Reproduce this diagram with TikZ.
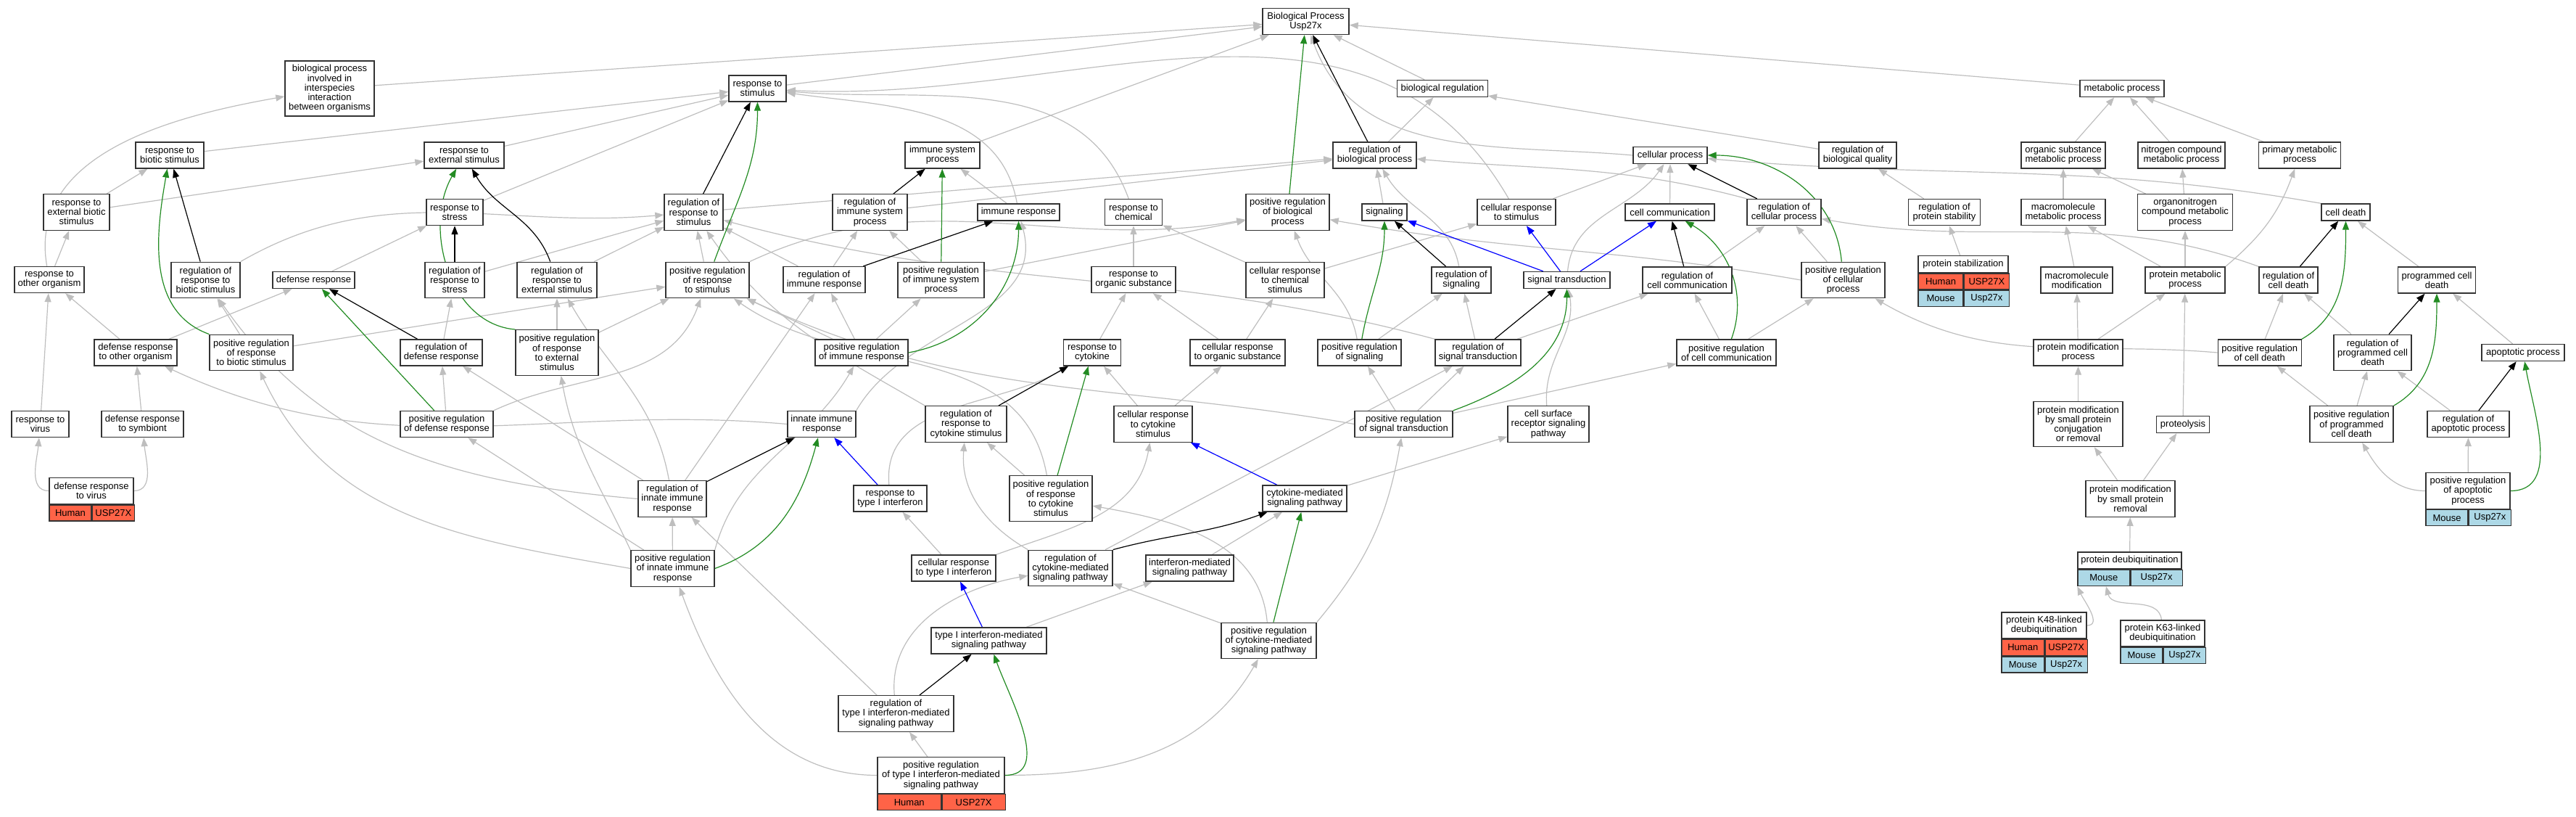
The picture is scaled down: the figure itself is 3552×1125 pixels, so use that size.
\documentclass[tikz,border=0pt]{standalone}
\usepackage{fontspec}
\setmainfont{Liberation Sans}
\usetikzlibrary{arrows.meta,backgrounds}
\definecolor{boxline}{HTML}{333333}
\definecolor{edgegray}{HTML}{BEBEBE}
\definecolor{posgreen}{HTML}{228B22}
\definecolor{humanred}{HTML}{FF6347}
\definecolor{mouseblue}{HTML}{ADD8E6}
\tikzset{
  term/.style={draw=boxline, line width=1.4pt, fill=white, align=center,
    inner xsep=0pt, inner ysep=0pt, font=\fontsize{13pt}{13.2pt}\selectfont},
  l1/.style={minimum height=23pt},
  l2/.style={minimum height=36pt},
  l3/.style={minimum height=49.5pt},
  l4/.style={minimum height=62.5pt},
  l5/.style={minimum height=76pt},
  human/.style={term, fill=humanred, minimum height=22pt, anchor=north west},
  mouse/.style={term, fill=mouseblue, minimum height=22pt, anchor=north west},
  isa/.style={draw=edgegray, line width=1.2pt, -{Triangle[length=12pt,width=9pt]}},
  regulates/.style={isa, draw=black},
  posreg/.style={isa, draw=posgreen},
  partof/.style={isa, draw=blue}
}
\begin{document}
\begin{tikzpicture}[x=1pt, y=-1pt]
\useasboundingbox (0,0) rectangle (3552,1125);

% terms, row by row
\node[term, l2, minimum width=119pt] (BP) at (1800.5,29.5) {Biological Process\\Usp27x};

\node[term, l5, minimum width=123pt] (bpinter) at (454.5,122) {biological process\\involved in\\interspecies\\interaction\\between organisms};
\node[term, l2, minimum width=79pt] (rstim) at (1044.5,122) {response to\\stimulus};
\node[term, l1, minimum width=124.5pt] (bioreg) at (1989,122) {biological regulation};
\node[term, l1, minimum width=116pt] (metab) at (2926,122) {metabolic process};

\node[term, l2, minimum width=94pt] (rbiotic) at (234,214) {response to\\biotic stimulus};
\node[term, l2, minimum width=110pt] (rext) at (640,214) {response to\\external stimulus};
\node[term, l2, minimum width=103pt] (immsys) at (1299.5,214) {immune system\\process};
\node[term, l2, minimum width=115pt] (regbio) at (1895.5,214) {regulation of\\biological process};
\node[term, l1, minimum width=102pt] (cellproc) at (2303,214) {cellular process};
\node[term, l2, minimum width=107pt] (regbioqual) at (2561.5,214) {regulation of\\biological quality};
\node[term, l2, minimum width=116pt] (orgsub) at (2845,214) {organic substance\\metabolic process};
\node[term, l2, minimum width=120pt] (nitro) at (3008,214) {nitrogen compound\\metabolic process};
\node[term, l2, minimum width=113pt] (primmetab) at (3171,214) {primary metabolic\\process};

\node[term, l3, minimum width=91pt] (rextbiotic) at (105.5,292.5) {response to\\external biotic\\stimulus};
\node[term, l2, minimum width=78pt] (rstress) at (627,292.5) {response to\\stress};
\node[term, l3, minimum width=81pt] (regrstim) at (956.5,292.5) {regulation of\\response to\\stimulus};
\node[term, l3, minimum width=103pt] (regimmsys) at (1199.5,292.5) {regulation of\\immune system\\process};
\node[term, l1, minimum width=113pt] (immresp) at (1404.5,292.5) {immune response};
\node[term, l2, minimum width=79pt] (rchem) at (1563,292.5) {response to\\chemical};
\node[term, l3, minimum width=115pt] (posbio) at (1775.5,292.5) {positive regulation\\of biological\\process};
\node[term, l1, minimum width=62pt] (signaling) at (1909,292.5) {signaling};
\node[term, l2, minimum width=108pt] (crstim) at (2091,292.5) {cellular response\\to stimulus};
\node[term, l1, minimum width=123pt] (cellcomm) at (2302.5,292.5) {cell communication};
\node[term, l2, minimum width=102pt] (regcellproc) at (2460,292.5) {regulation of\\cellular process};
\node[term, l2, minimum width=99pt] (regprotstab) at (2681,292.5) {regulation of\\protein stability};
\node[term, l2, minimum width=116pt] (macromol) at (2845,292.5) {macromolecule\\metabolic process};
\node[term, l3, minimum width=131pt] (organonitro) at (3013,292.5) {organonitrogen\\compound metabolic\\process};
\node[term, l1, minimum width=67pt] (celldeath) at (3234.5,292.5) {cell death};

\node[term, l2, minimum width=96pt] (rother) at (68,385.5) {response to\\other organism};
\node[term, l3, minimum width=95pt] (regrbiotic) at (283.5,386) {regulation of\\response to\\biotic stimulus};
\node[term, l1, minimum width=113pt] (defense) at (432.5,386) {defense response};
\node[term, l3, minimum width=82pt] (regrstress) at (627,386) {regulation of\\response to\\stress};
\node[term, l3, minimum width=110pt] (regrext) at (768,386) {regulation of\\response to\\external stimulus};
\node[term, l3, minimum width=115pt] (posrstim) at (975.5,386) {positive regulation\\of response\\to stimulus};
\node[term, l2, minimum width=113pt] (regimm) at (1136.5,385.5) {regulation of\\immune response};
\node[term, l3, minimum width=119pt] (posimmsys) at (1297.5,386) {positive regulation\\of immune system\\process};
\node[term, l2, minimum width=116pt] (rorgsub) at (1563,385.5) {response to\\organic substance};
\node[term, l3, minimum width=108pt] (crchem) at (1772,386) {cellular response\\to chemical\\stimulus};
\node[term, l2, minimum width=82pt] (regsig) at (2015,386) {regulation of\\signaling};
\node[term, l1, minimum width=119pt] (sigtrans) at (2160.5,386) {signal transduction};
\node[term, l2, minimum width=123pt] (regcellcomm) at (2326.5,386) {regulation of\\cell communication};
\node[term, l3, minimum width=115pt] (poscellproc) at (2541.5,386) {positive regulation\\of cellular\\process};
\node[term, l1, minimum width=124pt] (protstab) at (2707,364) {protein stabilization};
\node[human, minimum width=62pt] (protstabA) at (protstab.south west) {Human};
\node[human, minimum width=62pt] (protstabB) at (protstabA.north east) {USP27X};
\node[mouse, minimum width=62pt] (protstabC) at (protstabA.south west) {Mouse};
\node[mouse, minimum width=62pt] (protstabD) at (protstabC.north east) {Usp27x};
\node[term, l2, minimum width=99pt] (macromod) at (2863.5,386) {macromolecule\\modification};
\node[term, l2, minimum width=110pt] (protmetab) at (3013,386) {protein metabolic\\process};
\node[term, l2, minimum width=81pt] (regcelldeath) at (3155.5,386) {regulation of\\cell death};
\node[term, l2, minimum width=107pt] (progcd) at (3360,386) {programmed cell\\death};

\node[term, l2, minimum width=114pt] (defother) at (187,486) {defense response\\to other organism};
\node[term, l3, minimum width=115pt] (posrbiotic) at (346.5,486) {positive regulation\\of response\\to biotic stimulus};
\node[term, l2, minimum width=113pt] (regdef) at (608.5,486) {regulation of\\defense response};
\node[term, l4, minimum width=114pt] (posrext) at (768,486) {positive regulation\\of response\\to external\\stimulus};
\node[term, l2, minimum width=128pt] (posimm) at (1188,486) {positive regulation\\of immune response};
\node[term, l2, minimum width=79pt] (rcyto) at (1506,486) {response to\\cytokine};
\node[term, l2, minimum width=131pt] (crorgsub) at (1706.5,486) {cellular response\\to organic substance};
\node[term, l2, minimum width=115pt] (possig) at (1874.5,486) {positive regulation\\of signaling};
\node[term, l2, minimum width=118pt] (regsigtrans) at (2038,486) {regulation of\\signal transduction};
\node[term, l2, minimum width=137pt] (poscellcomm) at (2380.5,486) {positive regulation\\of cell communication};
\node[term, l2, minimum width=123pt] (protmodproc) at (2865.5,486) {protein modification\\process};
\node[term, l2, minimum width=115pt] (poscelldeath) at (3115.7,486) {positive regulation\\of cell death};
\node[term, l3, minimum width=107pt] (regprogcd) at (3271.5,486) {regulation of\\programmed cell\\death};
\node[term, l1, minimum width=114pt] (apopt) at (3479,486) {apoptotic process};

\node[term, l2, minimum width=79pt] (rvirus) at (55.5,584.5) {response to\\virus};
\node[term, l2, minimum width=113pt] (defsymb) at (196.5,584.5) {defense response\\to symbiont};
\node[term, l2, minimum width=128pt] (posdef) at (616,584.5) {positive regulation\\of defense response};
\node[term, l2, minimum width=94pt] (innate) at (1133,584.5) {innate immune\\response};
\node[term, l3, minimum width=112pt] (regrcyto) at (1332,584.5) {regulation of\\response to\\cytokine stimulus};
\node[term, l3, minimum width=108pt] (crcyto) at (1590,584.5) {cellular response\\to cytokine\\stimulus};
\node[term, l2, minimum width=135pt] (possigtrans) at (1935.5,584.5) {positive regulation\\of signal transduction};
\node[term, l3, minimum width=112pt] (cellsurf) at (2135,584.5) {cell surface\\receptor signaling\\pathway};
\node[term, l4, minimum width=123pt] (protmodsmall) at (2865.5,584.5) {protein modification\\by small protein\\conjugation\\or removal};
\node[term, l1, minimum width=73pt] (proteolysis) at (3010,585) {proteolysis};
\node[term, l3, minimum width=115pt] (posprogcd) at (3242.5,584.5) {positive regulation\\of programmed\\cell death};
\node[term, l2, minimum width=113pt] (regapopt) at (3403.5,584.5) {regulation of\\apoptotic process};

\node[term, l2, minimum width=116pt] (defvirus) at (126,676.5) {defense response\\to virus};
\node[human, minimum width=58pt] (defvirusA) at (defvirus.south west) {Human};
\node[human, minimum width=58pt] (defvirusB) at (defvirusA.north east) {USP27X};
\node[term, l3, minimum width=94pt] (reginnate) at (927,687.5) {regulation of\\innate immune\\response};
\node[term, l2, minimum width=101pt] (rtypeI) at (1227.5,687) {response to\\type I interferon};
\node[term, l4, minimum width=114pt] (posrcyto) at (1449,687) {positive regulation\\of response\\to cytokine\\stimulus};
\node[term, l2, minimum width=116pt] (cytomed) at (1799,687) {cytokine-mediated\\signaling pathway};
\node[term, l3, minimum width=123pt] (protsmallrem) at (2937.5,687.5) {protein modification\\by small protein\\removal};
\node[term, l3, minimum width=116pt] (posapopt) at (3403,676.5) {positive regulation\\of apoptotic\\process};
\node[mouse, minimum width=58pt] (posapoptA) at (posapopt.south west) {Mouse};
\node[mouse, minimum width=58pt] (posapoptB) at (posapoptA.north east) {Usp27x};

\node[term, l3, minimum width=115pt] (posinnate) at (927.5,783.5) {positive regulation\\of innate immune\\response};
\node[term, l2, minimum width=116pt] (crtypeI) at (1315,783) {cellular response\\to type I interferon};
\node[term, l3, minimum width=116pt] (regcyto) at (1476,783) {regulation of\\cytokine-mediated\\signaling pathway};
\node[term, l2, minimum width=121pt] (ifnmed) at (1640.5,783) {interferon-mediated\\signaling pathway};
\node[term, l1, minimum width=143pt] (deubiq) at (2936.5,772.5) {protein deubiquitination};
\node[mouse, minimum width=71.5pt] (deubiqA) at (deubiq.south west) {Mouse};
\node[mouse, minimum width=71.5pt] (deubiqB) at (deubiqA.north east) {Usp27x};

\node[term, l2, minimum width=159pt] (typeI) at (1363.5,883) {type I interferon-mediated\\signaling pathway};
\node[term, l3, minimum width=131pt] (poscyto) at (1749.5,883) {positive regulation\\of cytokine-mediated\\signaling pathway};
\node[term, l2, minimum width=117pt] (k48) at (2818.5,862) {protein K48-linked\\deubiquitination};
\node[human, minimum width=58.5pt] (k48A) at (k48.south west) {Human};
\node[human, minimum width=58.5pt] (k48B) at (k48A.north east) {USP27X};
\node[mouse, minimum width=58.5pt] (k48C) at (k48A.south west) {Mouse};
\node[mouse, minimum width=58.5pt] (k48D) at (k48C.north east) {Usp27x};
\node[term, l2, minimum width=116pt] (k63) at (2982,873) {protein K63-linked\\deubiquitination};
\node[mouse, minimum width=58pt] (k63A) at (k63.south west) {Mouse};
\node[mouse, minimum width=58pt] (k63B) at (k63A.north east) {Usp27x};

\node[term, l3, minimum width=159pt] (regtypeI) at (1235.5,983.5) {regulation of\\type I interferon-mediated\\signaling pathway};
\node[term, l3, minimum width=175pt] (postypeI) at (1297.5,1068.5) {positive regulation\\of type I interferon-mediated\\signaling pathway};
\node[human, minimum width=87.5pt] (postypeIA) at (postypeI.south west) {Human};
\node[human, minimum width=87.5pt] (postypeIB) at (postypeIA.north east) {USP27X};

\begin{scope}[on background layer]
% is_a
\draw[isa] (bpinter) -- (BP);
\draw[isa] (rstim) -- (BP);
\draw[isa] (immsys) -- (BP);
\draw[isa] (bioreg) -- (BP);
\draw[isa] (metab) -- (BP);
\draw[isa] (cellproc.west) to[out=175,in=-70] (BP);
\draw[isa] (rother) to[out=100,in=190] (bpinter);
\draw[isa] (rbiotic) -- (rstim);
\draw[isa] (rext) -- (rstim);
\draw[isa] (rstress) -- (rstim);
\draw[isa] (rchem) to[out=110,in=-5] (rstim);
\draw[isa] (immresp) to[out=100,in=-8] (rstim);
\draw[isa] (crstim) to[out=120,in=-3] (rstim);
\draw[isa] (rextbiotic) -- (rbiotic);
\draw[isa] (rextbiotic) -- (rext);
\draw[isa] (rother) -- (rextbiotic);
\draw[isa] (defense) -- (rstress);
\draw[isa] (defother) -- (defense);
\draw[isa] (defother) -- (rother);
\draw[isa] (rvirus) -- (rother);
\draw[isa] (defsymb) -- (defother);
\draw[isa] (defvirus.west) to[out=180,in=-95] (rvirus);
\draw[isa] (defvirus.east) to[out=0,in=-85] (defsymb);
\draw[isa] (posrbiotic) -- (regrbiotic);
\draw[isa] (posrbiotic) -- (posrstim);
\draw[isa] (regrbiotic.north east) to[out=30,in=185] (regrstim);
\draw[isa] (regrstress) -- (regrstim);
\draw[isa] (regrext) -- (regrstim);
\draw[isa] (regrstim) -- (regbio);
\draw[isa] (regimmsys) -- (regbio);
\draw[isa] (immresp) -- (immsys);
\draw[isa] (posrstim) -- (regrstim);
\draw[isa] (posrstim.north east) to[out=25,in=190] (posbio);
\draw[isa] (regimm) -- (regrstim);
\draw[isa] (regimm) -- (regimmsys);
\draw[isa] (posimmsys) -- (regimmsys);
\draw[isa] (posimmsys) -- (posbio);
\draw[isa] (posimm) -- (regimm);
\draw[isa] (posimm) -- (posimmsys);
\draw[isa] (posimm) -- (posrstim);
\draw[isa] (regdef) -- (regrstress);
\draw[isa] (posdef) -- (regdef);
\draw[isa] (posdef.north east) to[out=25,in=-110] (posrstim);
\draw[isa] (posrext) -- (regrext);
\draw[isa] (posrext) -- (posrstim);
\draw[isa] (posinnate) -- (posdef);
\draw[isa] (posinnate) -- (reginnate);
\draw[isa] (posinnate.north east) to[out=75,in=-120] (posimm);
\draw[isa] (posinnate.west) to[out=170,in=-65] (posrbiotic);
\draw[isa] (posinnate.north west) to[out=115,in=-80] (posrext);
\draw[isa] (reginnate.west) to[out=175,in=-55] (regrbiotic);
\draw[isa] (reginnate) -- (regdef);
\draw[isa] (reginnate) to[out=100,in=-60] (regrext);
\draw[isa] (reginnate) -- (regimm);
\draw[isa] (innate.north east) to[out=60,in=-75] (immresp);
\draw[isa] (innate.west) to[out=175,in=-25] (defother);
\draw[isa] (rtypeI) to[out=95,in=-150] (rcyto);
\draw[isa] (regrcyto.north west) to[out=150,in=-55] (regrstim);
\draw[isa] (posrcyto) -- (regrcyto);
\draw[isa] (posrcyto) to[out=100,in=-35] (posrstim);
\draw[isa] (rcyto) -- (rorgsub);
\draw[isa] (rorgsub) -- (rchem);
\draw[isa] (crchem) -- (rchem);
\draw[isa] (crchem) -- (crstim);
\draw[isa] (crorgsub) -- (rorgsub);
\draw[isa] (crorgsub) -- (crchem);
\draw[isa] (crcyto) -- (rcyto);
\draw[isa] (crcyto) -- (crorgsub);
\draw[isa] (cytomed) -- (cellsurf);
\draw[isa] (cellsurf) to[out=95,in=-80] (sigtrans);
\draw[isa] (sigtrans) to[out=85,in=-125] (cellproc);
\draw[isa] (signaling) -- (regbio);
\draw[isa] (regsig) to[out=100,in=-60] (regbio);
\draw[isa] (possig) -- (regsig);
\draw[isa] (possig) to[out=100,in=-70] (posbio);
\draw[isa] (regsigtrans) -- (regsig);
\draw[isa] (regsigtrans) -- (regcellcomm);
\draw[isa] (regsigtrans.north west) to[out=165,in=-15] (regrstim);
\draw[isa] (possigtrans) -- (regsigtrans);
\draw[isa] (possigtrans) -- (possig);
\draw[isa] (possigtrans) -- (poscellcomm);
\draw[isa] (possigtrans.west) to[out=170,in=-25] (posrstim);
\draw[isa] (poscyto) -- (regcyto);
\draw[isa] (poscyto) to[out=95,in=-10] (posrcyto);
\draw[isa] (poscyto.north east) to[out=50,in=-100] (possigtrans);
\draw[isa] (regcyto.north west) to[out=150,in=-95] (regrcyto);
\draw[isa] (regcyto) -- (regsigtrans);
\draw[isa] (ifnmed) -- (cytomed);
\draw[isa] (typeI) -- (ifnmed);
\draw[isa] (regtypeI) to[out=95,in=190] (regcyto);
\draw[isa] (regtypeI) -- (reginnate);
\draw[isa] (postypeI) -- (regtypeI);
\draw[isa] (postypeI.east) to[out=0,in=-120] (poscyto);
\draw[isa] (postypeI.west) to[out=180,in=-70] (posinnate);
\draw[isa] (crtypeI) -- (rtypeI);
\draw[isa] (crtypeI.north east) to[out=20,in=-100] (crcyto);
\draw[isa] (regbio) -- (bioreg);
\draw[isa] (regbioqual) -- (bioreg);
\draw[isa] (crstim) -- (cellproc);
\draw[isa] (cellcomm) -- (cellproc);
\draw[isa] (celldeath.north west) to[out=170,in=-5] (cellproc);
\draw[isa] (regcellproc.north west) to[out=165,in=-5] (regbio);
\draw[isa] (regcellcomm) -- (regcellproc);
\draw[isa] (poscellproc) -- (regcellproc);
\draw[isa] (poscellproc.west) to[out=170,in=-10] (posbio);
\draw[isa] (poscellcomm) -- (regcellcomm);
\draw[isa] (poscellcomm) -- (poscellproc);
\draw[isa] (regprotstab) -- (regbioqual);
\draw[isa] (protstab) -- (regprotstab);
\draw[isa] (orgsub) -- (metab);
\draw[isa] (nitro) -- (metab);
\draw[isa] (primmetab) -- (metab);
\draw[isa] (macromol) -- (orgsub);
\draw[isa] (organonitro) -- (orgsub);
\draw[isa] (organonitro) -- (nitro);
\draw[isa] (protmetab) -- (macromol);
\draw[isa] (protmetab) -- (organonitro);
\draw[isa] (protmetab.north east) to[out=40,in=-110] (primmetab);
\draw[isa] (macromod) -- (macromol);
\draw[isa] (protmodproc) -- (macromod);
\draw[isa] (protmodproc) -- (protmetab);
\draw[isa] (protmodsmall) -- (protmodproc);
\draw[isa] (proteolysis) -- (protmetab);
\draw[isa] (protsmallrem) -- (protmodsmall);
\draw[isa] (protsmallrem) -- (proteolysis);
\draw[isa] (deubiq) -- (protsmallrem);
\draw[isa] (k48.east) to[out=0,in=-65] (deubiqA.south west);
\draw[isa] (k63) to[out=95,in=-75] (deubiqA);
\draw[isa] (regcelldeath.north west) to[out=160,in=-10] (regcellproc);
\draw[isa] (poscelldeath) -- (regcelldeath);
\draw[isa] (poscelldeath.west) to[out=175,in=-30] (poscellproc);
\draw[isa] (progcd) -- (celldeath);
\draw[isa] (regprogcd) -- (regcelldeath);
\draw[isa] (posprogcd) -- (regprogcd);
\draw[isa] (posprogcd) -- (poscelldeath);
\draw[isa] (apopt) -- (progcd);
\draw[isa] (regapopt) -- (regprogcd);
\draw[isa] (posapopt) -- (regapopt);
\draw[isa] (posapopt.west) to[out=180,in=-60] (posprogcd);
% regulates
\draw[regulates] (regbio) -- (BP);
\draw[regulates] (regrbiotic) -- (rbiotic);
\draw[regulates] (regrext) to[out=110,in=-60] (rext);
\draw[regulates] (regrstress) -- (rstress);
\draw[regulates] (regrstim) -- (rstim);
\draw[regulates] (regimmsys) -- (immsys);
\draw[regulates] (regimm) -- (immresp);
\draw[regulates] (regdef) -- (defense);
\draw[regulates] (reginnate) -- (innate);
\draw[regulates] (regrcyto) -- (rcyto);
\draw[regulates] (regcyto.north east) to[out=15,in=-160] (cytomed);
\draw[regulates] (regtypeI) -- (typeI);
\draw[regulates] (regsig) -- (signaling);
\draw[regulates] (regsigtrans) -- (sigtrans);
\draw[regulates] (regcellcomm) -- (cellcomm);
\draw[regulates] (regcellproc) -- (cellproc);
\draw[regulates] (regcelldeath) -- (celldeath);
\draw[regulates] (regprogcd) -- (progcd);
\draw[regulates] (regapopt) -- (apopt);
% positively regulates
\draw[posreg] (posbio) -- (BP);
\draw[posreg] (posrbiotic.north west) to[out=160,in=-100] (rbiotic);
\draw[posreg] (posrext.north west) to[out=175,in=-120] (rext);
\draw[posreg] (posrstim) to[out=70,in=-90] (rstim);
\draw[posreg] (posimmsys) -- (immsys);
\draw[posreg] (posimm.east) to[out=10,in=-90] (immresp);
\draw[posreg] (posdef) -- (defense);
\draw[posreg] (posinnate.east) to[out=20,in=-105] (innate);
\draw[posreg] (posrcyto) -- (rcyto);
\draw[posreg] (poscyto) -- (cytomed);
\draw[posreg] (postypeI.east) to[out=0,in=-70] (typeI);
\draw[posreg] (possig) to[out=80,in=-90] (signaling);
\draw[posreg] (possigtrans.north east) to[out=20,in=-90] (sigtrans);
\draw[posreg] (poscellcomm) to[out=70,in=-30] (cellcomm);
\draw[posreg] (poscellproc) to[out=95,in=0] (cellproc);
\draw[posreg] (poscelldeath.north east) to[out=30,in=-90] (celldeath);
\draw[posreg] (posprogcd.north east) to[out=30,in=-90] (progcd);
\draw[posreg] (posapopt.east) to[out=0,in=-80] (apopt);
% part of
\draw[partof] (sigtrans) -- (signaling);
\draw[partof] (sigtrans) -- (crstim);
\draw[partof] (sigtrans) -- (cellcomm);
\draw[partof] (rtypeI) -- (innate);
\draw[partof] (typeI) -- (crtypeI);
\draw[partof] (cytomed) -- (crcyto);
\end{scope}
\end{tikzpicture}
\end{document}
